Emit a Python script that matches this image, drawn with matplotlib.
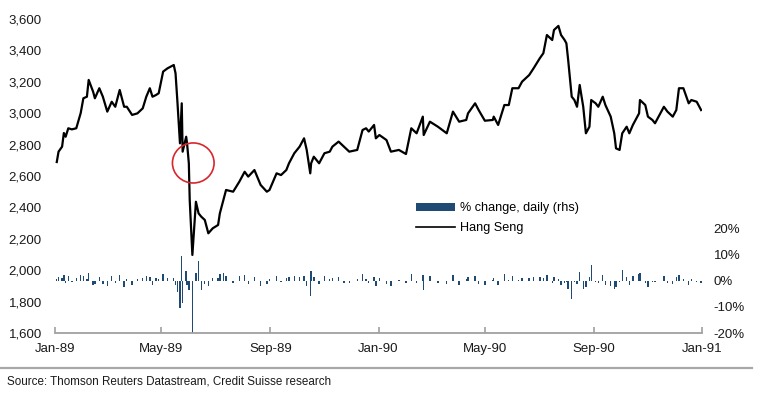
import matplotlib
matplotlib.use("Agg")
import matplotlib.pyplot as plt
import matplotlib.dates as mdates
from matplotlib.patches import Ellipse, Patch
from matplotlib.lines import Line2D
import pandas as pd

plt.rcParams['font.family'] = ['Liberation Sans', 'DejaVu Sans']

dates = [
    "1989-01-03", "1989-01-05", "1989-01-09", "1989-01-11", "1989-01-13", "1989-01-16", "1989-01-20", "1989-01-25",
    "1989-01-30", "1989-02-02", "1989-02-06", "1989-02-08", "1989-02-13", "1989-02-15", "1989-02-20", "1989-02-24",
    "1989-03-01", "1989-03-06", "1989-03-10", "1989-03-15", "1989-03-20", "1989-03-23", "1989-03-29", "1989-04-04",
    "1989-04-10", "1989-04-14", "1989-04-18", "1989-04-21", "1989-04-25", "1989-04-28", "1989-05-03", "1989-05-08",
    "1989-05-15", "1989-05-17", "1989-05-19", "1989-05-22", "1989-05-24", "1989-05-25", "1989-05-29", "1989-05-30",
    "1989-06-01", "1989-06-02", "1989-06-05", "1989-06-09", "1989-06-12", "1989-06-15", "1989-06-19", "1989-06-23",
    "1989-06-28", "1989-07-04", "1989-07-06", "1989-07-10", "1989-07-13", "1989-07-21", "1989-07-28", "1989-08-03",
    "1989-08-07", "1989-08-14", "1989-08-21", "1989-08-28", "1989-08-31", "1989-09-08", "1989-09-13", "1989-09-19",
    "1989-09-22", "1989-09-28", "1989-10-04", "1989-10-09", "1989-10-12", "1989-10-16", "1989-10-17", "1989-10-20",
    "1989-10-26", "1989-11-01", "1989-11-07", "1989-11-10", "1989-11-17", "1989-11-23", "1989-11-29", "1989-12-08",
    "1989-12-14", "1989-12-18", "1989-12-21", "1989-12-27", "1989-12-29", "1990-01-02", "1990-01-10", "1990-01-15",
    "1990-01-24", "1990-02-01", "1990-02-07", "1990-02-13", "1990-02-20", "1990-02-21", "1990-02-28", "1990-03-09",
    "1990-03-19", "1990-03-26", "1990-04-02", "1990-04-10", "1990-04-12", "1990-04-20", "1990-04-24", "1990-05-01",
    "1990-05-10", "1990-05-11", "1990-05-16", "1990-05-23", "1990-05-28", "1990-06-01", "1990-06-08", "1990-06-12",
    "1990-06-20", "1990-06-25", "1990-07-02", "1990-07-06", "1990-07-10", "1990-07-16", "1990-07-18", "1990-07-23",
    "1990-07-26", "1990-07-30", "1990-08-01", "1990-08-03", "1990-08-07", "1990-08-10", "1990-08-13", "1990-08-16",
    "1990-08-20", "1990-08-23", "1990-08-27", "1990-08-29", "1990-09-03", "1990-09-06", "1990-09-11", "1990-09-14",
    "1990-09-20", "1990-09-24", "1990-09-26", "1990-09-30", "1990-10-03", "1990-10-08", "1990-10-11", "1990-10-15",
    "1990-10-22", "1990-10-23", "1990-10-29", "1990-11-01", "1990-11-06", "1990-11-09", "1990-11-19", "1990-11-23",
    "1990-11-29", "1990-12-03", "1990-12-06", "1990-12-11", "1990-12-17", "1990-12-20", "1990-12-26", "1990-12-31",
]

hang_seng = [
    2689, 2755, 2787, 2874, 2850, 2904, 2897, 2904,
    3001, 3095, 3105, 3212, 3137, 3095, 3159, 3105,
    3010, 3073, 3041, 3148, 3041, 3041, 2989, 2999,
    3031, 3105, 3159, 3105, 3116, 3127, 3265, 3286,
    3307, 3254, 3084, 2808, 3063, 2755, 2850, 2808,
    2681, 2447, 2097, 2436, 2362, 2341, 2320, 2235,
    2267, 2288, 2362, 2447, 2511, 2500, 2564, 2627,
    2596, 2638, 2543, 2500, 2511, 2617, 2606, 2638,
    2681, 2745, 2787, 2840, 2766, 2617, 2681, 2723,
    2681, 2745, 2755, 2787, 2819, 2787, 2755, 2766,
    2893, 2904, 2883, 2925, 2840, 2861, 2829, 2755,
    2766, 2740, 2904, 2872, 2978, 2861, 2946, 2914,
    2872, 3010, 2946, 2957, 2999, 3063, 3020, 2952,
    2957, 2978, 2925, 3052, 3052, 3159, 3159, 3201,
    3243, 3286, 3350, 3382, 3498, 3466, 3530, 3556,
    3498, 3466, 3445, 3339, 3105, 3084, 3041, 3180,
    3041, 2872, 2914, 3084, 3063, 3041, 3105, 3052,
    2978, 2872, 2776, 2766, 2872, 2914, 2872, 2925,
    2999, 3084, 3052, 2978, 2957, 2936, 3041, 3010,
    2978, 3020, 3159, 3159, 3063, 3084, 3073, 3020,
]

pct_change = [
    0.8, 1.5, 1.2, 2.0, -0.8, 1.8, -0.5, 1.0,
    2.2, 1.6, 0.7, 2.8, -1.8, -1.2, 1.5, -1.4,
    -2.2, 1.6, -1.0, 2.1, -2.5, 0.6, -1.5, 0.8,
    1.2, 1.9, 1.4, -1.6, 0.9, 0.7, 2.4, 1.1,
    0.9, -1.8, -4.5, -10.5, 9.6, -8.5, 3.7, -1.5,
    -3.5, -3.0, -21.7, 3.0, 7.7, -3.5, -1.2, -2.0,
    1.0, 1.2, 2.5, 2.8, 1.9, -0.8, 1.6, 2.0,
    -1.2, 1.5, -2.0, -1.1, 0.8, 1.9, -0.7, 1.2,
    1.5, 1.8, 1.4, 1.6, -2.2, -6.0, 3.8, 1.5,
    -1.4, 1.7, 0.6, 1.1, 1.3, -1.0, -0.9, 0.5,
    2.4, 0.8, -0.9, 1.4, -2.0, 1.0, -1.1, -2.1,
    0.4, -0.8, 2.6, -1.0, 2.3, -3.5, 1.9, -0.9,
    -1.3, 2.2, -1.7, 0.5, 1.4, 1.8, -1.3, -1.5,
    0.4, 0.9, -1.6, 2.4, 0.3, 1.9, 0.4, 1.2,
    1.1, 1.3, 1.5, 0.9, 2.2, -0.9, 1.5, 0.8,
    -1.6, -0.9, -0.6, -3.1, -7.0, -0.7, -1.4, 3.2,
    -3.0, -2.5, 1.5, 6.0, -0.7, -0.8, 2.0, -1.7,
    -1.9, -3.0, -2.6, -0.4, 4.0, 1.4, -1.5, 1.8,
    2.5, 2.8, -1.0, -2.4, -0.7, -0.7, 1.6, -1.0,
    -1.1, 1.4, 2.2, 0.5, -1.5, 0.7, -0.4, -1.0,
]

left_ticks = [1600, 1800, 2000, 2200, 2400, 2600, 2800, 3000, 3200, 3400, 3600]
right_ticks = [-20, -10, 0, 10, 20]
x_ticks = ["1989-01-01", "1989-05-01", "1989-09-01", "1990-01-01", "1990-05-01", "1990-09-01", "1991-01-01"]
x_labels = ["Jan-89", "May-89", "Sep-89", "Jan-90", "May-90", "Sep-90", "Jan-91"]

d = pd.to_datetime(dates)

W, H = 766, 399
fig = plt.figure(figsize=(W / 100, H / 100), dpi=100)
ax = fig.add_axes([55 / W, 1 - 333 / H, (702 - 55) / W, (333 - 19) / H])
ax2 = ax.twinx()

bar_color = "#1f4a74"
ax2.bar(d, pct_change, width=1.6, color=bar_color, linewidth=0)
ax.plot(d, hang_seng, color="black", lw=1.6, solid_joinstyle="round")

ax.set_zorder(ax2.get_zorder() + 1)
ax.patch.set_visible(False)

ax.set_xlim(pd.Timestamp("1989-01-01"), pd.Timestamp("1991-01-01"))
ax.set_ylim(1600, 3600)
ax2.set_ylim(-20, 100)

ax.set_yticks(left_ticks)
ax.set_yticklabels([f"{v:,}" for v in left_ticks])
ax2.set_yticks(right_ticks)
ax2.set_yticklabels([f"{v}%" for v in right_ticks])
ax.set_xticks(pd.to_datetime(x_ticks))
ax.set_xticklabels(x_labels)

for s in ["top", "left", "right"]:
    ax.spines[s].set_visible(False)
for s in ["top", "left", "right", "bottom"]:
    ax2.spines[s].set_visible(False)
ax.spines["bottom"].set_color("#a0a0a0")
ax.spines["bottom"].set_linewidth(1.3)

ax.tick_params(axis="y", length=0, pad=9.5, labelsize=9.5, labelcolor="#1a1a1a")
ax2.tick_params(axis="y", length=0, pad=8.5, labelsize=9.5, labelcolor="#1a1a1a")
ax.tick_params(axis="x", direction="in", length=4, width=1.2, color="#a0a0a0",
               pad=7, labelsize=9.5, labelcolor="#1a1a1a")

# red highlight circle around the crash
circ = Ellipse((mdates.date2num(pd.Timestamp("1989-06-06")), 2683), width=47, height=255,
               fill=False, ec="#d8262c", lw=1.2, clip_on=False, zorder=5)
ax.add_patch(circ)

handles = [Patch(facecolor=bar_color, edgecolor="none"),
           Line2D([0], [0], color="black", lw=1.2)]
labels = ["% change, daily (rhs)", "Hang Seng"]
fig.legend(handles, labels, loc="upper left", bbox_to_anchor=(416 / W, 1 - 202 / H),
           frameon=False, fontsize=9.1, handlelength=3.05, handleheight=0.6,
           handletextpad=0.4, labelspacing=0.62, borderpad=0, borderaxespad=0)

fig.add_artist(Line2D([0, 752 / W], [1 - 368 / H, 1 - 368 / H], transform=fig.transFigure,
                      color="#a8a8a8", lw=1.6))
fig.text(7 / W, 1 - 382 / H, "Source: Thomson Reuters Datastream, Credit Suisse research",
         fontsize=8.4, color="#1a1a1a", va="center", ha="left")

fig.savefig("out.png", dpi=100)
